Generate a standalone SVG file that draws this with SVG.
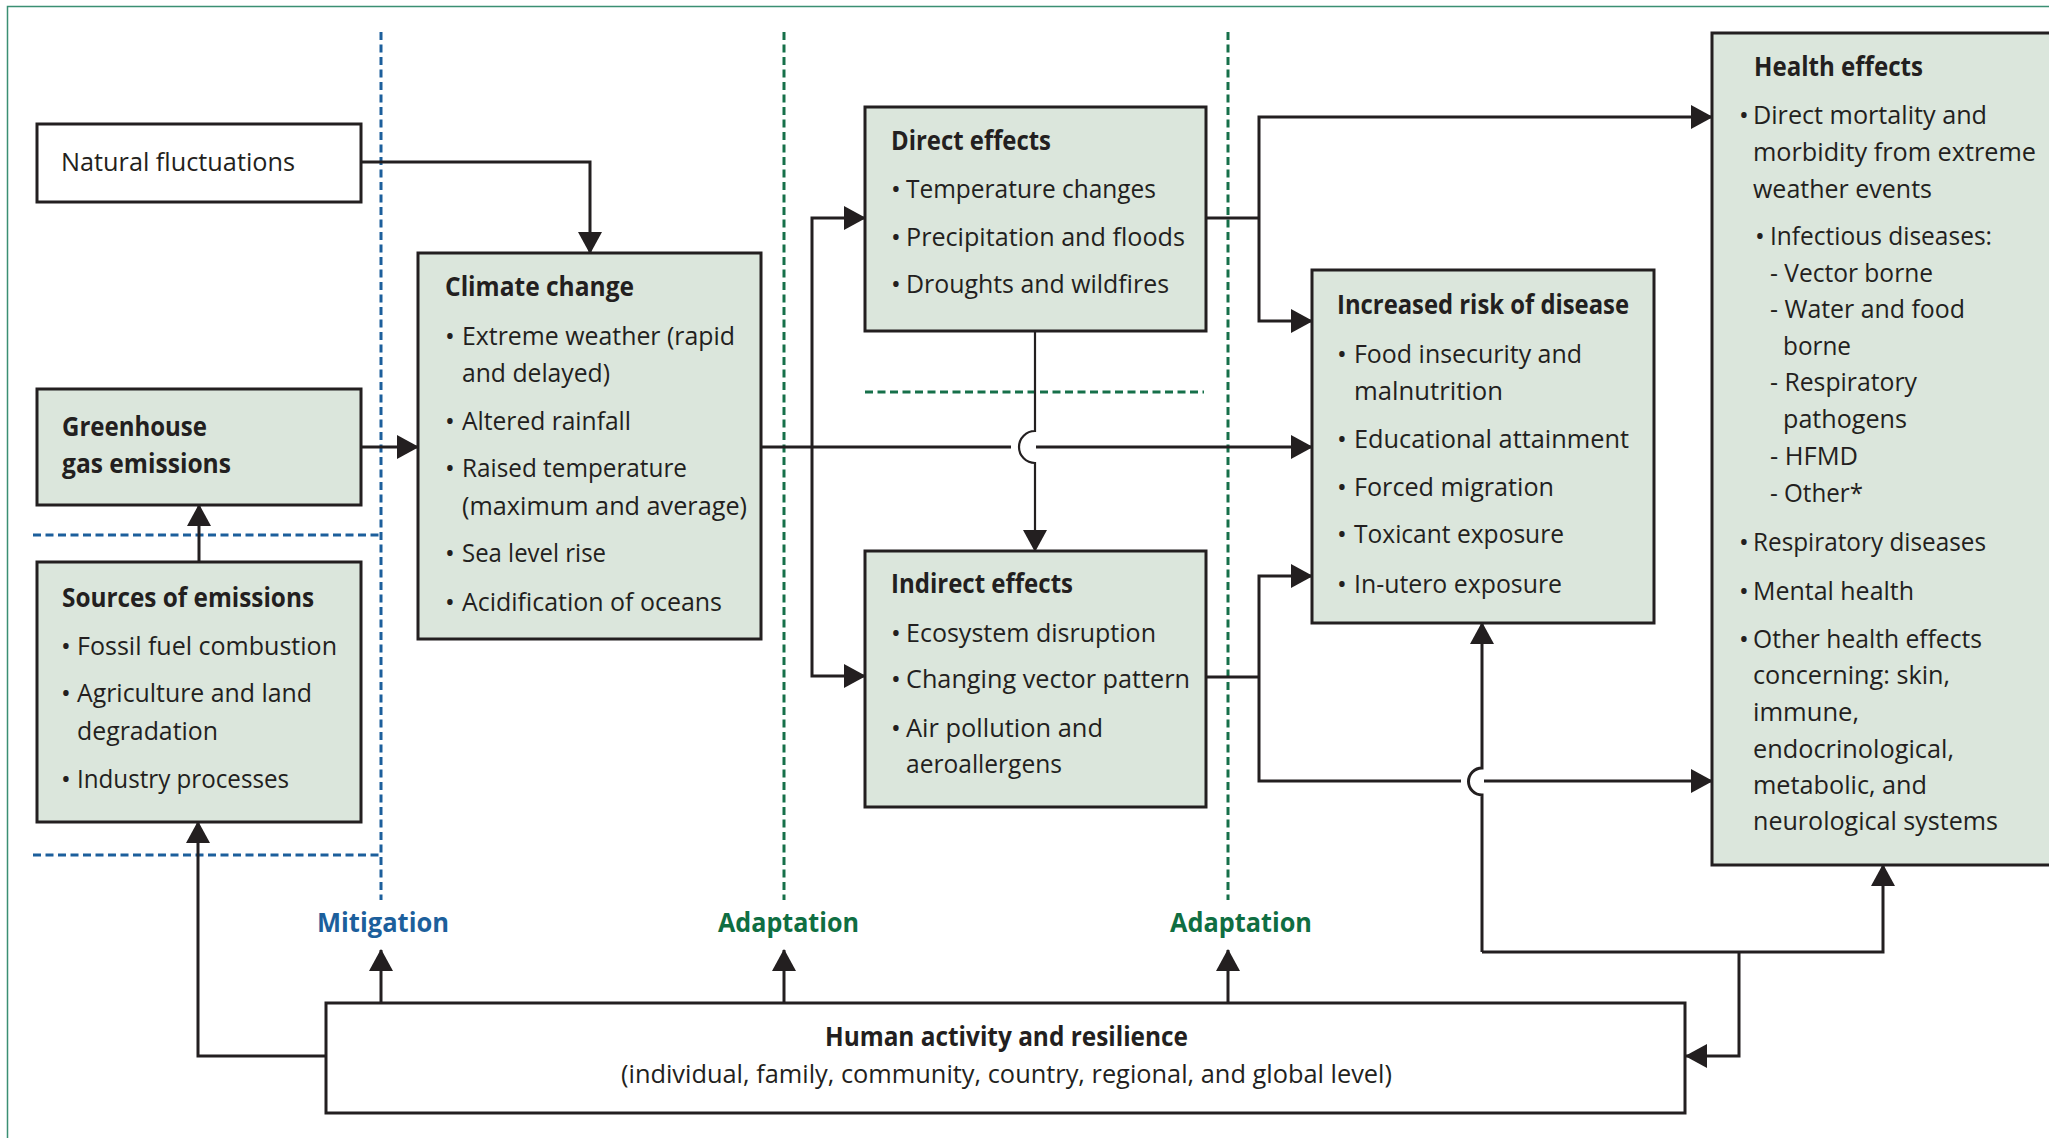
<svg xmlns="http://www.w3.org/2000/svg" width="2049" height="1138" viewBox="0 0 2049 1138">
<defs>
<style>
.t{font-family:"Open Sans","Liberation Sans",sans-serif;font-size:26px;fill:#231f20}
.b{font-weight:700}
.bu{text-anchor:middle}
.box{stroke:#231f20;stroke-width:3}
.g{fill:#dbe6dc}
.w{fill:#ffffff}
.c{fill:none;stroke:#231f20;stroke-width:3}
.thin{stroke-width:2.2}
.bd{fill:none;stroke:#1c5f9c;stroke-width:3;stroke-dasharray:8 4.5}
.gd{fill:none;stroke:#16704a;stroke-width:3;stroke-dasharray:8 4.5}
.mit{fill:#1c5f9c}
.ada{fill:#0f6e42}
</style>
<marker id="ah" viewBox="0 0 22 24" refX="21" refY="12" markerWidth="22" markerHeight="24" markerUnits="userSpaceOnUse" orient="auto"><path d="M0,0 L22,12 L0,24 z" fill="#231f20"/></marker>
</defs>
<rect x="0" y="0" width="2049" height="1138" fill="#ffffff"/>
<path d="M7.5,1138 V6.5 H2049" fill="none" stroke="#3b8f73" stroke-width="1.5"/>

<g id="guides">
<path class="bd" d="M381,32 V900"/>
<path class="bd" d="M33,535 H381"/>
<path class="bd" d="M33,855 H381"/>
<path class="gd" d="M784,32 V900"/>
<path class="gd" d="M1228,32 V900"/>
<path class="gd" d="M865,392 H1204"/>
</g>

<g id="connectors">
<path class="c" d="M361,162 H590 V253" marker-end="url(#ah)"/>
<path class="c" d="M361,447 H418" marker-end="url(#ah)"/>
<path class="c" d="M199,562 V505" marker-end="url(#ah)"/>
<path class="c" d="M326,1056 H198 V822" marker-end="url(#ah)"/>
<path class="c" d="M761,447 H1011"/>
<path class="c" d="M1036,447 H1312" marker-end="url(#ah)"/>
<path class="c" d="M812,447 V218 H865" marker-end="url(#ah)"/>
<path class="c" d="M812,447 V676 H865" marker-end="url(#ah)"/>
<path class="c thin" d="M1035,331 V431 A16,16 0 0 0 1035,463 V551" marker-end="url(#ah)"/>
<path class="c" d="M1206,218 H1259"/>
<path class="c" d="M1259,218 V117 H1712" marker-end="url(#ah)"/>
<path class="c" d="M1259,218 V321 H1312" marker-end="url(#ah)"/>
<path class="c" d="M1206,677 H1259"/>
<path class="c" d="M1259,677 V576 H1312" marker-end="url(#ah)"/>
<path class="c" d="M1259,677 V781 H1461"/>
<path class="c" d="M1484,781 H1712" marker-end="url(#ah)"/>
<path class="c" d="M1739,952 V1056 H1686" marker-end="url(#ah)"/>
<path class="c" d="M1482,952 H1883 V865" marker-end="url(#ah)"/>
<path class="c" d="M1482,952 V795 A13.5,13.5 0 0 1 1482,768 V623" marker-end="url(#ah)"/>
<path class="c" d="M381,1003 V950" marker-end="url(#ah)"/>
<path class="c" d="M784,1003 V950" marker-end="url(#ah)"/>
<path class="c" d="M1228,1003 V950" marker-end="url(#ah)"/>
</g>

<g id="natural">
<rect class="box w" x="37" y="124" width="324" height="78"/>
<text class="t" x="61" y="171" textLength="234" lengthAdjust="spacingAndGlyphs">Natural fluctuations</text>
</g>

<g id="greenhouse">
<rect class="box g" x="37" y="389" width="324" height="116"/>
<text class="t b" x="62" y="436" textLength="145" lengthAdjust="spacingAndGlyphs">Greenhouse</text>
<text class="t b" x="62" y="473" textLength="169" lengthAdjust="spacingAndGlyphs">gas emissions</text>
</g>

<g id="sources">
<rect class="box g" x="37" y="562" width="324" height="260"/>
<text class="t b" x="62" y="607" textLength="252" lengthAdjust="spacingAndGlyphs">Sources of emissions</text>
<text class="t bu" x="66" y="655">•</text>
<text class="t" x="77" y="655" textLength="260" lengthAdjust="spacingAndGlyphs">Fossil fuel combustion</text>
<text class="t bu" x="66" y="702">•</text>
<text class="t" x="77" y="702" textLength="235" lengthAdjust="spacingAndGlyphs">Agriculture and land</text>
<text class="t" x="77" y="740" textLength="141" lengthAdjust="spacingAndGlyphs">degradation</text>
<text class="t bu" x="66" y="788">•</text>
<text class="t" x="77" y="788" textLength="212" lengthAdjust="spacingAndGlyphs">Industry processes</text>
</g>

<g id="climate">
<rect class="box g" x="418" y="253" width="343" height="386"/>
<text class="t b" x="445" y="296" textLength="189" lengthAdjust="spacingAndGlyphs">Climate change</text>
<text class="t bu" x="450" y="345">•</text>
<text class="t" x="462" y="345" textLength="273" lengthAdjust="spacingAndGlyphs">Extreme weather (rapid</text>
<text class="t" x="462" y="382" textLength="148" lengthAdjust="spacingAndGlyphs">and delayed)</text>
<text class="t bu" x="450" y="430">•</text>
<text class="t" x="462" y="430" textLength="169" lengthAdjust="spacingAndGlyphs">Altered rainfall</text>
<text class="t bu" x="450" y="477">•</text>
<text class="t" x="462" y="477" textLength="225" lengthAdjust="spacingAndGlyphs">Raised temperature</text>
<text class="t" x="462" y="515" textLength="285" lengthAdjust="spacingAndGlyphs">(maximum and average)</text>
<text class="t bu" x="450" y="562">•</text>
<text class="t" x="462" y="562" textLength="144" lengthAdjust="spacingAndGlyphs">Sea level rise</text>
<text class="t bu" x="450" y="611">•</text>
<text class="t" x="462" y="611" textLength="260" lengthAdjust="spacingAndGlyphs">Acidification of oceans</text>
</g>

<g id="direct">
<rect class="box g" x="865" y="107" width="341" height="224"/>
<text class="t b" x="891" y="150" textLength="160" lengthAdjust="spacingAndGlyphs">Direct effects</text>
<text class="t bu" x="896" y="198">•</text>
<text class="t" x="906" y="198" textLength="250" lengthAdjust="spacingAndGlyphs">Temperature changes</text>
<text class="t bu" x="896" y="246">•</text>
<text class="t" x="906" y="246" textLength="279" lengthAdjust="spacingAndGlyphs">Precipitation and floods</text>
<text class="t bu" x="896" y="293">•</text>
<text class="t" x="906" y="293" textLength="263" lengthAdjust="spacingAndGlyphs">Droughts and wildfires</text>
</g>

<g id="indirect">
<rect class="box g" x="865" y="551" width="341" height="256"/>
<text class="t b" x="891" y="593" textLength="182" lengthAdjust="spacingAndGlyphs">Indirect effects</text>
<text class="t bu" x="896" y="642">•</text>
<text class="t" x="906" y="642" textLength="250" lengthAdjust="spacingAndGlyphs">Ecosystem disruption</text>
<text class="t bu" x="896" y="688">•</text>
<text class="t" x="906" y="688" textLength="284" lengthAdjust="spacingAndGlyphs">Changing vector pattern</text>
<text class="t bu" x="896" y="737">•</text>
<text class="t" x="906" y="737" textLength="197" lengthAdjust="spacingAndGlyphs">Air pollution and</text>
<text class="t" x="906" y="773" textLength="156" lengthAdjust="spacingAndGlyphs">aeroallergens</text>
</g>

<g id="increased">
<rect class="box g" x="1312" y="270" width="342" height="353"/>
<text class="t b" x="1337" y="314" textLength="292" lengthAdjust="spacingAndGlyphs">Increased risk of disease</text>
<text class="t bu" x="1342" y="363">•</text>
<text class="t" x="1354" y="363" textLength="228" lengthAdjust="spacingAndGlyphs">Food insecurity and</text>
<text class="t" x="1354" y="400" textLength="149" lengthAdjust="spacingAndGlyphs">malnutrition</text>
<text class="t bu" x="1342" y="448">•</text>
<text class="t" x="1354" y="448" textLength="275" lengthAdjust="spacingAndGlyphs">Educational attainment</text>
<text class="t bu" x="1342" y="496">•</text>
<text class="t" x="1354" y="496" textLength="200" lengthAdjust="spacingAndGlyphs">Forced migration</text>
<text class="t bu" x="1342" y="543">•</text>
<text class="t" x="1354" y="543" textLength="210" lengthAdjust="spacingAndGlyphs">Toxicant exposure</text>
<text class="t bu" x="1342" y="593">•</text>
<text class="t" x="1354" y="593" textLength="208" lengthAdjust="spacingAndGlyphs">In-utero exposure</text>
</g>

<g id="health">
<rect class="box g" x="1712" y="33" width="360" height="832"/>
<text class="t b" x="1754" y="76" textLength="169" lengthAdjust="spacingAndGlyphs">Health effects</text>
<text class="t bu" x="1744" y="124">•</text>
<text class="t" x="1753" y="124" textLength="234" lengthAdjust="spacingAndGlyphs">Direct mortality and</text>
<text class="t" x="1753" y="161" textLength="283" lengthAdjust="spacingAndGlyphs">morbidity from extreme</text>
<text class="t" x="1753" y="198" textLength="179" lengthAdjust="spacingAndGlyphs">weather events</text>
<text class="t bu" x="1760" y="245">•</text>
<text class="t" x="1770" y="245" textLength="222" lengthAdjust="spacingAndGlyphs">Infectious diseases:</text>
<text class="t" x="1770" y="282" textLength="163" lengthAdjust="spacingAndGlyphs">- Vector borne</text>
<text class="t" x="1770" y="318" textLength="195" lengthAdjust="spacingAndGlyphs">- Water and food</text>
<text class="t" x="1783" y="355" textLength="68" lengthAdjust="spacingAndGlyphs">borne</text>
<text class="t" x="1770" y="391" textLength="147" lengthAdjust="spacingAndGlyphs">- Respiratory</text>
<text class="t" x="1783" y="428" textLength="124" lengthAdjust="spacingAndGlyphs">pathogens</text>
<text class="t" x="1770" y="465" textLength="88" lengthAdjust="spacingAndGlyphs">- HFMD</text>
<text class="t" x="1770" y="502" textLength="93" lengthAdjust="spacingAndGlyphs">- Other*</text>
<text class="t bu" x="1744" y="551">•</text>
<text class="t" x="1753" y="551" textLength="233" lengthAdjust="spacingAndGlyphs">Respiratory diseases</text>
<text class="t bu" x="1744" y="600">•</text>
<text class="t" x="1753" y="600" textLength="161" lengthAdjust="spacingAndGlyphs">Mental health</text>
<text class="t bu" x="1744" y="648">•</text>
<text class="t" x="1753" y="648" textLength="229" lengthAdjust="spacingAndGlyphs">Other health effects</text>
<text class="t" x="1753" y="684" textLength="197" lengthAdjust="spacingAndGlyphs">concerning: skin,</text>
<text class="t" x="1753" y="721" textLength="106" lengthAdjust="spacingAndGlyphs">immune,</text>
<text class="t" x="1753" y="758" textLength="201" lengthAdjust="spacingAndGlyphs">endocrinological,</text>
<text class="t" x="1753" y="794" textLength="174" lengthAdjust="spacingAndGlyphs">metabolic, and</text>
<text class="t" x="1753" y="830" textLength="245" lengthAdjust="spacingAndGlyphs">neurological systems</text>
</g>

<g id="human">
<rect class="box w" x="326" y="1003" width="1359" height="110"/>
<text class="t b" x="825" y="1046" textLength="363" lengthAdjust="spacingAndGlyphs">Human activity and resilience</text>
<text class="t" x="621" y="1083" textLength="771" lengthAdjust="spacingAndGlyphs">(individual, family, community, country, regional, and global level)</text>
</g>

<g id="labels">
<text class="t b mit" x="317" y="932" textLength="132" lengthAdjust="spacingAndGlyphs">Mitigation</text>
<text class="t b ada" x="718" y="932" textLength="141" lengthAdjust="spacingAndGlyphs">Adaptation</text>
<text class="t b ada" x="1170" y="932" textLength="142" lengthAdjust="spacingAndGlyphs">Adaptation</text>
</g>
</svg>
